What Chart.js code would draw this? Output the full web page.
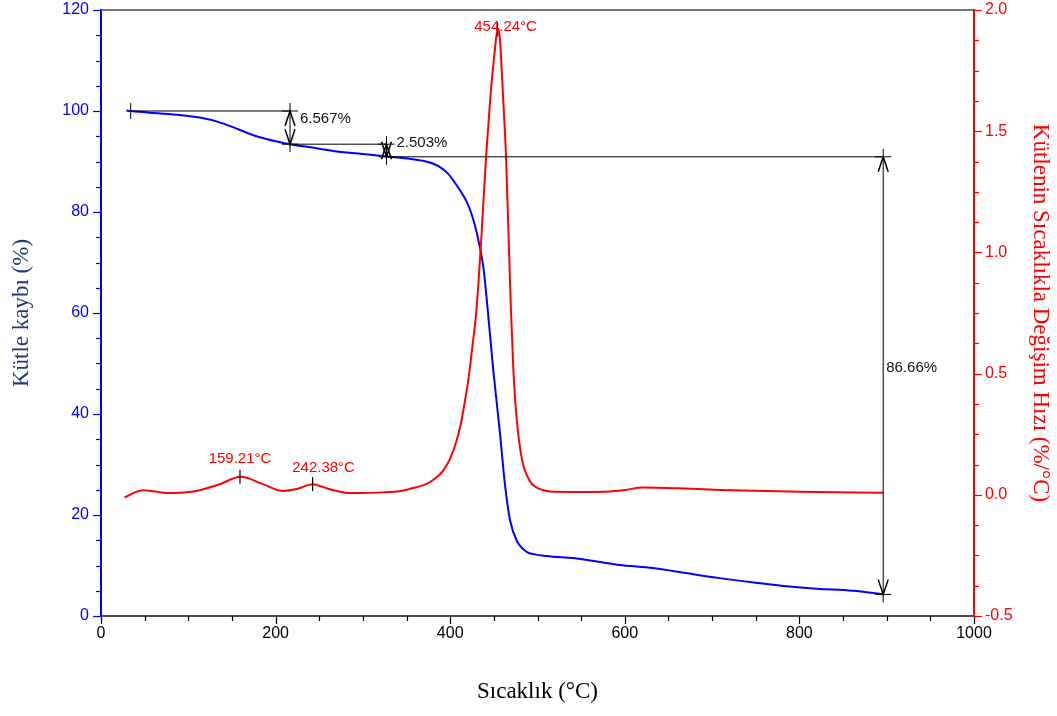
<!DOCTYPE html>
<html>
<head>
<meta charset="utf-8">
<script src="https://cdn.jsdelivr.net/npm/chart.js@4.4.0/dist/chart.umd.min.js"></script>
<style>
  html, body { margin: 0; padding: 0; background: #fff; }
  #wrap { width: 1057px; height: 716px; }
</style>
</head>
<body>
<div id="wrap"><canvas id="tga"></canvas></div>
<script>
// TG curve: mass (%) vs temperature (°C)
const tgTemps = [29, 34, 60, 90, 113, 135, 151, 167, 182, 200, 216.5, 240, 266, 300, 327, 355, 370, 380, 390, 398, 405, 412,
  419, 425, 430.5, 438, 443, 449, 457, 463, 468.5, 476, 487.6, 497, 510, 549, 594, 632, 670, 709, 750, 785, 820, 861, 896];
const tgMass = [100.1, 100.0, 99.6, 99.2, 98.7, 97.8, 96.8, 95.7, 94.8, 94.0, 93.4, 92.8, 92.1, 91.5, 91.0, 90.5, 90.1, 89.6, 88.7, 87.5, 85.9, 84.1,
  82.0, 79.3, 75.8, 69.1, 60.6, 49.3, 36.2, 25.6, 19.0, 15.0, 12.7, 12.2, 11.9, 11.3, 10.1, 9.5, 8.5, 7.5, 6.6, 5.9, 5.4, 5.0, 4.3];

// DTG curve: rate of mass change (%/°C) vs temperature (°C)
const dtgTemps = [27, 33, 40, 48, 60, 75, 95, 113, 135, 160, 185, 208, 225, 242.5, 260, 285, 323, 345, 360, 373,
  383, 392, 400, 407, 412, 417, 421, 425, 430, 436, 441, 446, 451, 454.2, 457, 460, 464, 467, 469.6, 472.3,
  476, 482, 491, 498, 506, 514, 549, 583, 600, 621, 660, 709, 800, 896];
const dtgRate = [-0.012, 0.0, 0.012, 0.019, 0.015, 0.007, 0.009, 0.019, 0.042, 0.074, 0.045, 0.016, 0.025, 0.044, 0.025, 0.007, 0.01, 0.017, 0.03, 0.045,
  0.068, 0.10, 0.15, 0.22, 0.29, 0.39, 0.48, 0.60, 0.76, 1.08, 1.39, 1.64, 1.83, 1.92, 1.88, 1.68, 1.39, 1.05, 0.76, 0.52,
  0.32, 0.15, 0.058, 0.032, 0.02, 0.014, 0.012, 0.014, 0.02, 0.03, 0.027, 0.02, 0.013, 0.008];

// mass loss steps: baseline start, then the temperature of each step marker
const stepTemps = [34, 216.5, 327, 896];
const stepLevels = [100, 93.43, 90.93, 4.27];
const stepLabels = ['6.567%', '2.503%', '86.66%'];

// DTG peaks
const peakTemps = [159.21, 242.38, 454.24];
const peakRates = [0.074, 0.044, 1.92];
const peakLabels = ['159.21°C', '242.38°C', '454.24°C'];

// tick labels
const xTickLabels = [0, 200, 400, 600, 800, 1000];
const yTickLabels = [0, 20, 40, 60, 80, 100, 120];
const y2TickLabels = [-0.5, 0, 0.5, 1.0, 1.5, 2.0];

const toPoints = (xs, ys) => xs.map((v, i) => ({ x: v, y: ys[i] }));

function line(ctx, x1, y1, x2, y2) {
  ctx.beginPath();
  ctx.moveTo(x1, y1);
  ctx.lineTo(x2, y2);
  ctx.stroke();
}

function arrowHead(ctx, x, yTip, dir) {
  // dir = -1 points up, +1 points down
  ctx.beginPath();
  ctx.moveTo(x - 5, yTip - dir * 15);
  ctx.lineTo(x, yTip);
  ctx.lineTo(x + 5, yTip - dir * 15);
  ctx.stroke();
}

// keep the plot box fixed: 10px above, axes widths as in the original
const fitY = w => s => {
  s.width = w;
  s.paddingTop = 10;
  s.paddingBottom = 0;
};

const overlay = {
  id: 'overlay',
  afterDraw(chart, args, opts) {
    const { ctx, chartArea: a, scales: { x, y, y2 } } = chart;
    ctx.save();

    // frame top
    ctx.strokeStyle = '#444';
    ctx.lineWidth = 1.5;
    line(ctx, a.left, a.top, a.right, a.top);

    // axis tick marks, long on labelled ticks
    ctx.lineWidth = 1.2;
    ctx.strokeStyle = '#000';
    x.ticks.forEach(t => {
      const px = Math.round(x.getPixelForValue(t.value)) + 0.5;
      line(ctx, px, a.bottom, px, a.bottom + (t.label ? 8 : 5));
    });
    ctx.strokeStyle = '#0000ff';
    y.ticks.forEach(t => {
      const py = Math.round(y.getPixelForValue(t.value)) + 0.5;
      line(ctx, a.left, py, a.left - (t.label ? 8 : 5), py);
    });
    ctx.strokeStyle = '#ff0000';
    y2.ticks.forEach(t => {
      const py = Math.round(y2.getPixelForValue(t.value)) + 0.5;
      line(ctx, a.right, py, a.right + (t.label ? 8 : 5), py);
    });

    // mass loss steps
    ctx.strokeStyle = '#000';
    ctx.lineWidth = 1;
    const sx = stepTemps.map(v => x.getPixelForValue(v));
    const sy = stepLevels.map(v => y.getPixelForValue(v));
    line(ctx, sx[0], sy[0] - 8, sx[0], sy[0] + 8);
    for (let i = 0; i < stepLabels.length; i++) {
      line(ctx, sx[i], sy[i], sx[i + 1], sy[i]);
      const ax = sx[i + 1];
      ctx.lineWidth = 1;
      line(ctx, ax, sy[i] - 8, ax, sy[i + 1] + 8);
      line(ctx, ax - 8, sy[i], ax + 8, sy[i]);
      line(ctx, ax - 8, sy[i + 1], ax + 8, sy[i + 1]);
      ctx.lineWidth = 1.5;
      arrowHead(ctx, ax, sy[i], -1);
      arrowHead(ctx, ax, sy[i + 1], 1);
      ctx.lineWidth = 1;
    }
    ctx.fillStyle = '#111';
    ctx.font = '15px "Liberation Sans", Arial, sans-serif';
    ctx.textAlign = 'left';
    ctx.textBaseline = 'middle';
    stepLabels.forEach((s, i) => {
      ctx.fillText(s, sx[i + 1] + opts.stepDx[i], y.getPixelForValue(opts.stepLabelAt[i]));
    });

    // DTG peak markers
    ctx.textAlign = 'center';
    peakTemps.forEach((t, i) => {
      const px = x.getPixelForValue(t);
      const py = y2.getPixelForValue(peakRates[i]);
      ctx.strokeStyle = '#000';
      ctx.lineWidth = 1.2;
      line(ctx, px, py - 7, px, py + 7);
      ctx.fillStyle = '#ff0000';
      ctx.fillText(peakLabels[i], px + opts.peakDx[i], Math.max(py + opts.peakDy[i], a.top + 15));
    });

    ctx.restore();
  }
};

const serif = '"Liberation Serif", "Times New Roman", serif';
const sans = '"Liberation Sans", Arial, sans-serif';

new Chart(document.getElementById('tga'), {
  type: 'line',
  data: {
    datasets: [
      {
        label: 'DTG',
        data: toPoints(dtgTemps, dtgRate),
        yAxisID: 'y2',
        borderColor: '#ff0000',
        borderWidth: 2,
        pointRadius: 0,
        cubicInterpolationMode: 'monotone'
      },
      {
        label: 'TG',
        data: toPoints(tgTemps, tgMass),
        yAxisID: 'y',
        borderColor: '#0000ff',
        borderWidth: 2,
        pointRadius: 0,
        cubicInterpolationMode: 'monotone'
      }
    ]
  },
  options: {
    responsive: true,
    maintainAspectRatio: false,
    animation: false,
    layout: { padding: { top: 0 } },
    plugins: {
      legend: { display: false },
      tooltip: { enabled: false },
      overlay: {
        stepDx: [10, 10, 3],
        stepLabelAt: [98.4, 93.66, 49.1],
        peakDx: [0, 11, 8],
        peakDy: [-18, -16, -3]
      }
    },
    scales: {
      x: {
        type: 'linear',
        position: 'bottom',
        min: 0,
        max: 1000,
        afterFit: s => { s.height = 100; },
        grid: { display: false },
        border: { color: '#4d4d4d', width: 2 },
        ticks: {
          stepSize: 50,
          autoSkip: false,
          maxRotation: 0,
          padding: 0,
          color: '#000',
          font: { family: sans, size: 16 },
          callback: v => xTickLabels.includes(v) ? String(v) : ''
        },
        title: {
          display: true,
          text: 'Sıcaklık (°C)',
          color: '#000',
          font: { family: serif, size: 23 },
          padding: { bottom: 10 }
        }
      },
      y: {
        position: 'left',
        min: 0,
        max: 120,
        afterFit: fitY(101),
        grid: { display: false },
        border: { color: '#0000ff', width: 2 },
        ticks: {
          stepSize: 5,
          autoSkip: false,
          padding: 4,
          color: '#0000ff',
          font: { family: sans, size: 16 },
          callback: v => yTickLabels.includes(v) ? String(v) : ''
        },
        title: {
          display: true,
          text: 'Kütle kaybı (%)',
          color: '#1f3c74',
          font: { family: serif, size: 23 },
          padding: { top: 8 }
        }
      },
      y2: {
        position: 'right',
        min: -0.5,
        max: 2.0,
        afterFit: fitY(83),
        grid: { display: false },
        border: { color: '#ff0000', width: 2 },
        ticks: {
          stepSize: 0.125,
          autoSkip: false,
          padding: 3,
          color: '#ff0000',
          font: { family: sans, size: 16 },
          callback: v => y2TickLabels.includes(v) ? v.toFixed(1) : ''
        },
        title: {
          display: true,
          text: 'Kütlenin Sıcaklıkla Değişim Hızı (%/°C)',
          color: '#ff0000',
          font: { family: serif, size: 23 },
          padding: { top: 3 }
        }
      }
    }
  },
  plugins: [overlay]
});
</script>
</body>
</html>
